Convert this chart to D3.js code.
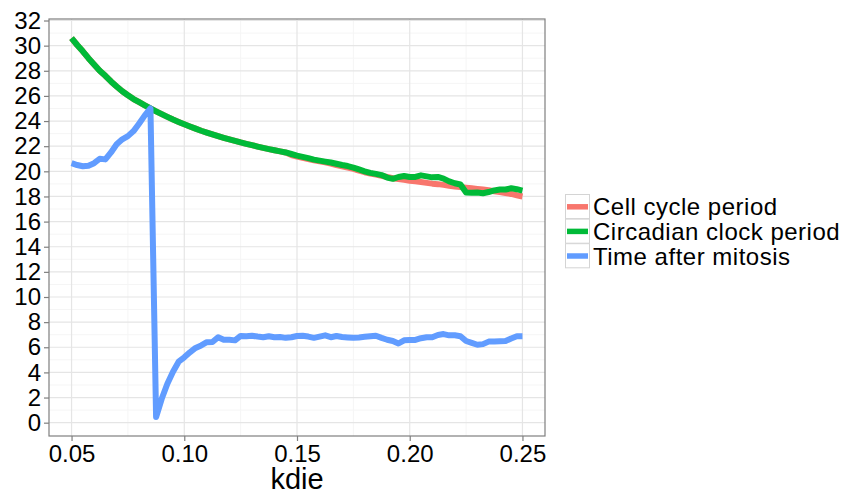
<!DOCTYPE html>
<html><head><meta charset="utf-8">
<script src="https://cdn.jsdelivr.net/npm/d3@7"></script>
<style>body{margin:0;background:#fff;} svg{display:block;font-family:"Liberation Sans",Arial,sans-serif;}</style>
</head><body>
<svg id="c" width="847" height="493"></svg>
<script>
const kdie = [0.05,0.0525,0.055,0.0575,0.06,0.0625,0.065,0.0675,0.07,0.0725,0.075,0.0775,0.08,0.0825,0.085,0.0875,0.09,0.0925,0.095,0.0975,
0.10,0.1025,0.105,0.1075,0.11,0.1125,0.115,0.1175,0.12,0.1225,0.125,0.1275,0.13,0.1325,0.135,0.1375,0.14,0.1425,0.145,0.1475,
0.15,0.1525,0.155,0.1575,0.16,0.1625,0.165,0.1675,0.17,0.1725,0.175,0.1775,0.18,0.1825,0.185,0.1875,0.19,0.1925,0.195,0.1975,
0.20,0.2025,0.205,0.2075,0.21,0.2125,0.215,0.2175,0.22,0.2225,0.225,0.2275,0.23,0.2325,0.235,0.2375,0.24,0.2425,0.245,0.2475,0.25];

const cellCycle = [30.6,30.05,29.55,29.0,28.5,28.0,27.6,27.15,26.75,26.37,26.05,25.75,25.5,25.25,25.0,24.77,24.55,24.33,24.12,23.93,
23.75,23.57,23.4,23.23,23.08,22.94,22.8,22.67,22.55,22.43,22.3,22.19,22.08,21.97,21.87,21.77,21.68,21.59,21.5,21.3,
21.18,21.08,20.98,20.88,20.8,20.72,20.62,20.5,20.4,20.3,20.2,20.05,19.93,19.83,19.75,19.65,19.55,19.45,19.38,19.32,
19.25,19.2,19.15,19.08,19.02,18.98,18.92,18.85,18.8,18.75,18.7,18.65,18.6,18.55,18.5,18.42,18.35,18.27,18.2,18.1,18.0];

const circadian = [30.6,30.05,29.55,29.0,28.5,28.0,27.6,27.15,26.75,26.37,26.05,25.75,25.5,25.25,25.0,24.77,24.55,24.33,24.12,23.93,
23.75,23.57,23.4,23.23,23.08,22.94,22.8,22.67,22.55,22.43,22.3,22.19,22.08,21.97,21.87,21.77,21.68,21.59,21.5,21.38,
21.25,21.15,21.05,20.93,20.85,20.77,20.7,20.6,20.5,20.42,20.3,20.15,20.0,19.88,19.8,19.7,19.5,19.4,19.55,19.63,
19.55,19.55,19.68,19.6,19.52,19.55,19.42,19.2,19.05,18.95,18.32,18.3,18.32,18.26,18.35,18.48,18.55,18.55,18.65,18.58,18.47];

const afterMitosis = [20.65,20.5,20.4,20.45,20.65,21.0,20.95,21.5,22.15,22.55,22.8,23.2,23.8,24.45,25.0,0.45,1.9,3.1,4.05,4.85,
5.2,5.6,5.95,6.15,6.4,6.42,6.8,6.6,6.6,6.55,6.9,6.88,6.92,6.85,6.8,6.88,6.8,6.82,6.75,6.8,
6.9,6.92,6.85,6.75,6.85,6.95,6.8,6.9,6.82,6.78,6.75,6.78,6.83,6.88,6.92,6.75,6.6,6.5,6.3,6.55,
6.58,6.58,6.72,6.8,6.8,6.98,7.05,6.95,6.95,6.88,6.5,6.35,6.2,6.25,6.45,6.45,6.48,6.5,6.7,6.88,6.88];

const seriesNames = ["Cell cycle period","Circadian clock period","Time after mitosis"];
const seriesColors = ["#F8766D","#00BA38","#619CFF"];
const xTicks = [0.05,0.10,0.15,0.20,0.25];
const yTicks = [0,2,4,6,8,10,12,14,16,18,20,22,24,26,28,30,32];
const xLabel = "kdie";

const series = [cellCycle, circadian, afterMitosis];
const svg = d3.select("#c");
const L = 49, R = 545, T = 19, B = 436;

const x = d3.scaleLinear().domain([0.04, 0.26]).range([L, R]);
const y = d3.scaleLinear().domain([-1.06, 32.12]).range([B, T]);

svg.append("rect").attr("x",L).attr("y",T).attr("width",R-L).attr("height",B-T).attr("fill","#fff");

const xMinor = [0.075,0.125,0.175,0.225];
const yMinor = d3.range(1,32,2);
const g = svg.append("g");
g.selectAll(".xm").data(xMinor).join("line").attr("class","xm").attr("x1",d=>x(d)).attr("x2",d=>x(d)).attr("y1",T).attr("y2",B).attr("stroke","#F5F5F5").attr("stroke-width",1);
g.selectAll(".ym").data(yMinor).join("line").attr("class","ym").attr("y1",d=>y(d)).attr("y2",d=>y(d)).attr("x1",L).attr("x2",R).attr("stroke","#F5F5F5").attr("stroke-width",1);
g.selectAll(".xg").data(xTicks).join("line").attr("class","xg").attr("x1",d=>x(d)).attr("x2",d=>x(d)).attr("y1",T).attr("y2",B).attr("stroke","#E5E5E5").attr("stroke-width",1.2);
g.selectAll(".yg").data(yTicks).join("line").attr("class","yg").attr("y1",d=>y(d)).attr("y2",d=>y(d)).attr("x1",L).attr("x2",R).attr("stroke","#E5E5E5").attr("stroke-width",1.2);

const line = d3.line().x((d,i)=>x(kdie[i])).y(d=>y(d));
series.forEach((s,k)=>{
  svg.append("path").datum(s).attr("d",line).attr("fill","none")
    .attr("stroke",seriesColors[k]).attr("stroke-width",6)
    .attr("stroke-linejoin","round").attr("stroke-linecap","butt");
});

svg.append("rect").attr("x",L).attr("y",T).attr("width",R-L).attr("height",B-T).attr("fill","none").attr("stroke","#7F7F7F").attr("stroke-width",1.2);

const xAxis = d3.axisBottom(x).tickValues(xTicks).tickFormat(d3.format(".2f")).tickSize(5).tickPadding(4);
const yAxis = d3.axisLeft(y).tickValues(yTicks).tickFormat(d3.format("d")).tickSize(5).tickPadding(3);
const gx = svg.append("g").attr("transform",`translate(0,${B})`).call(xAxis);
const gy = svg.append("g").attr("transform",`translate(${L},0)`).call(yAxis);
[gx,gy].forEach(a=>{
  a.select(".domain").remove();
  a.selectAll(".tick line").attr("stroke","#7F7F7F").attr("stroke-width",1.2);
  a.selectAll("text").attr("fill","#000").style("font-size","24px").style("font-family","'Liberation Sans',Arial,sans-serif");
});

svg.append("text").attr("x",(L+R)/2).attr("y",489).attr("text-anchor","middle")
  .style("font-size","29px").text(xLabel);

const lg = svg.append("g").attr("transform","translate(565,194)");
const rowH = 24.6;
seriesNames.forEach((n,k)=>{
  const r = lg.append("g").attr("transform",`translate(0,${k*rowH})`);
  r.append("rect").attr("x",0.5).attr("y",0.5).attr("width",24).attr("height",rowH-0.5).attr("fill","#fff").attr("stroke","#D4D4D4").attr("stroke-width",1);
  r.append("line").attr("x1",2).attr("x2",23).attr("y1",rowH/2+0.5).attr("y2",rowH/2+0.5).attr("stroke",seriesColors[k]).attr("stroke-width",5.5);
  r.append("text").attr("x",28).attr("y",rowH/2+9).style("font-size","24px").style("letter-spacing","0.5px").attr("fill","#000").text(n);
});
</script>
</body></html>
